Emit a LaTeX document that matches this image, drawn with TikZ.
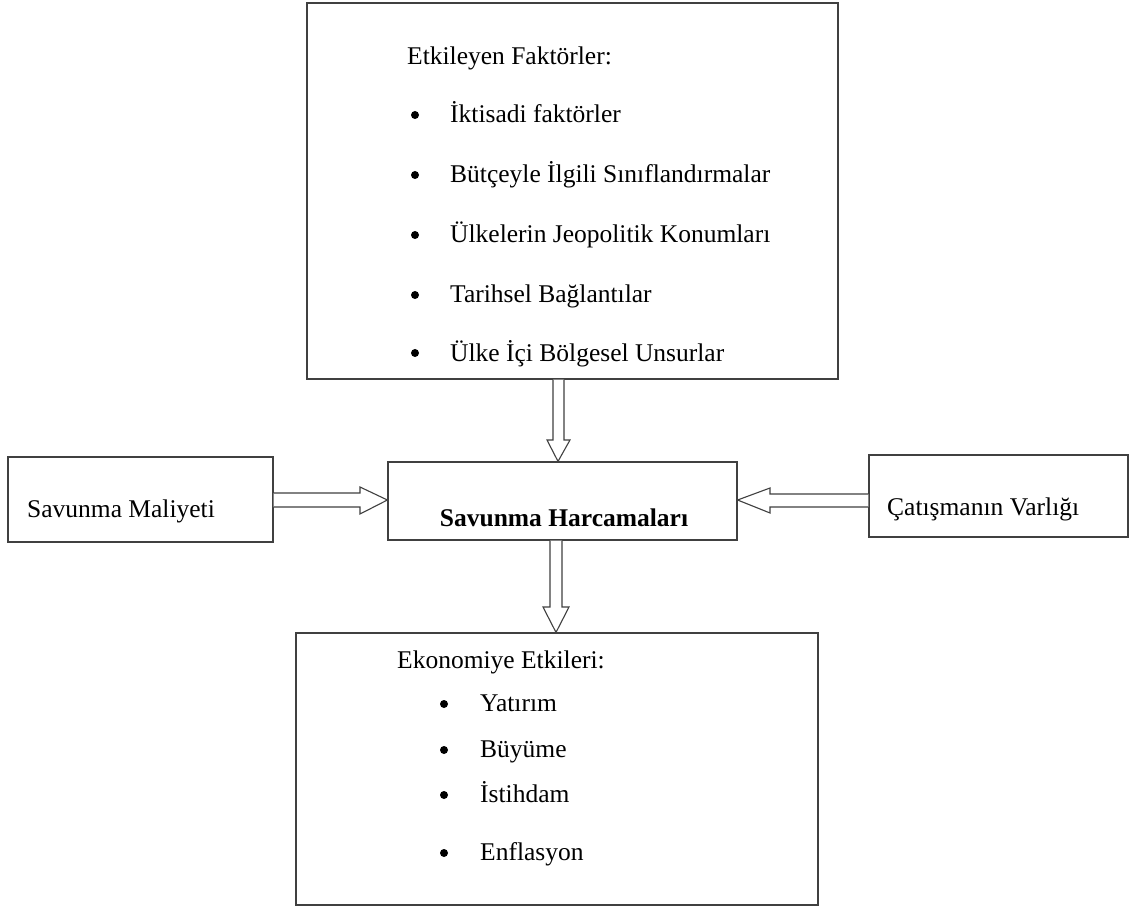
\documentclass[tikz,border=0pt]{standalone}
\usepackage{fontspec}
\setmainfont{Liberation Serif}
\begin{document}
\begin{tikzpicture}[x=1pt,y=-1pt,
  box/.style={draw=black!75,line width=1.2pt},
  txt/.style={anchor=base west,inner sep=0pt,font=\fontsize{25.5}{30}\selectfont},
  bul/.style={fill=black},
  blockarrow/.style={draw=black!75,line width=1.1pt,fill=white,line join=miter}]
\useasboundingbox (0,0) rectangle (1130,909);
\fill[white] (0,0) rectangle (1130,909);
% boxes
\node[box,minimum width=531pt,minimum height=376pt,inner sep=0pt] (top) at (572.5,191) {};
\node[box,minimum width=349pt,minimum height=78pt,inner sep=0pt] (center) at (562.5,501) {};
\node[box,minimum width=265pt,minimum height=85pt,inner sep=0pt] (left) at (140.5,499.5) {};
\node[box,minimum width=259pt,minimum height=82pt,inner sep=0pt] (right) at (998.5,496) {};
\node[box,minimum width=522pt,minimum height=272pt,inner sep=0pt] (bottom) at (557,769) {};
% texts
\node[txt] (t0) at (407,65) {Etkileyen Faktörler:};
\foreach \yy/\tt [count=\i] in {115/İktisadi faktörler,175/Bütçeyle İlgili Sınıflandırmalar,235/Ülkelerin Jeopolitik Konumları,295/Tarihsel Bağlantılar,353/Ülke İçi Bölgesel Unsurlar}{
  \fill[bul] (415,\yy) circle (4pt);
  \node[txt] (tb\i) at (450,\yy+8) {\tt};
}
\node[txt] (lt) at (27,517) {Savunma Maliyeti};
\node[inner sep=0pt,anchor=base,font=\fontsize{25.5}{30}\selectfont\bfseries] (ct) at (564,526) {Savunma Harcamaları};
\node[txt] (rt) at (887,515) {Çatışmanın Varlığı};
\node[txt] (b0) at (397,668) {Ekonomiye Etkileri:};
\foreach \yy/\tt [count=\i] in {704/Yatırım,750/Büyüme,795/İstihdam,853/Enflasyon}{
  \fill[bul] (444,\yy) circle (4pt);
  \node[txt] (bb\i) at (480,\yy+7) {\tt};
}
% block arrows
\draw[blockarrow] (553,0 |- top.south) -- (553,440) -- (547,440) -- (558,0 |- center.north) -- (570,440) -- (564,440) -- (564,0 |- top.south);
\draw[blockarrow] (left.east |- 0,493) -- (360,493) -- (360,487) -- (center.west |- 0,500) -- (360,514) -- (360,507) -- (left.east |- 0,507);
\draw[blockarrow] (right.west |- 0,494) -- (770,494) -- (770,488) -- (center.east |- 0,500) -- (770,513) -- (770,507) -- (right.west |- 0,507);
\draw[blockarrow] (550,0 |- center.south) -- (550,607) -- (543,607) -- (556,0 |- bottom.north) -- (569,607) -- (562,607) -- (562,0 |- center.south);
\end{tikzpicture}
\end{document}
